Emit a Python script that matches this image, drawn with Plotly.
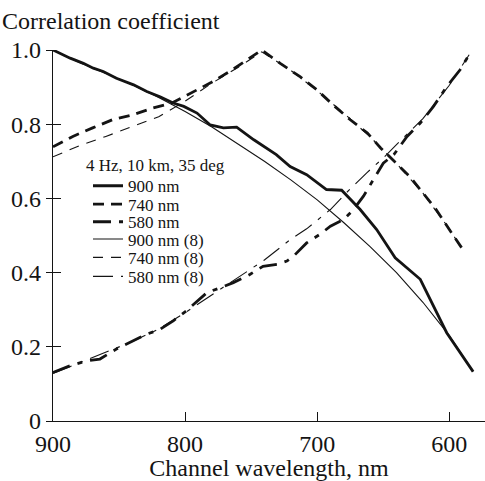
import plotly.graph_objects as go

# ---- data (wavelength in nm, correlation coefficient) ----
wl_900 = [900, 887, 877, 869.5, 862, 852, 839, 829, 819, 809, 801, 791, 781, 771, 761, 748, 731, 720.5, 708, 693, 681.5, 667.5, 655, 641, 622, 602, 582]
v_900 = [1.0, 0.978, 0.964, 0.951, 0.942, 0.924, 0.906, 0.888, 0.874, 0.857, 0.848, 0.830, 0.798, 0.790, 0.792, 0.758, 0.718, 0.686, 0.664, 0.624, 0.622, 0.570, 0.516, 0.440, 0.382, 0.238, 0.133]

wl_740 = [900, 885, 870, 855, 840, 825, 810, 795, 780, 765, 753, 742, 728, 713, 700, 688, 675, 662, 652, 642, 630, 620, 610, 600, 589]
v_740 = [0.739, 0.767, 0.790, 0.812, 0.825, 0.843, 0.857, 0.886, 0.913, 0.945, 0.973, 1.0, 0.964, 0.928, 0.892, 0.852, 0.812, 0.776, 0.736, 0.700, 0.659, 0.615, 0.570, 0.516, 0.458]

wl_580 = [900, 887, 874.5, 864.5, 852, 842, 829, 819, 809, 799, 791, 783.5, 773.5, 763.5, 751, 741, 730.5, 723, 718, 708, 698, 690, 680, 672.5, 665, 657.5, 650, 642, 632, 622, 612, 602, 592, 585]
v_580 = [0.131, 0.149, 0.162, 0.167, 0.194, 0.212, 0.234, 0.247, 0.270, 0.297, 0.323, 0.346, 0.359, 0.373, 0.395, 0.417, 0.422, 0.431, 0.444, 0.480, 0.503, 0.525, 0.543, 0.570, 0.606, 0.651, 0.695, 0.718, 0.767, 0.803, 0.848, 0.901, 0.946, 0.987]

wl_900m = [900, 880, 860, 840, 820, 800, 780, 760, 740, 720, 700, 680, 660, 640, 620, 600, 582]
v_900m = [1.0, 0.966, 0.937, 0.906, 0.872, 0.834, 0.793, 0.747, 0.700, 0.650, 0.596, 0.535, 0.470, 0.400, 0.320, 0.230, 0.133]

wl_740m = [900, 880, 860, 840, 820, 800, 780, 760, 742, 720, 700, 680, 660, 640, 620, 600, 589]
v_740m = [0.712, 0.742, 0.767, 0.794, 0.820, 0.862, 0.910, 0.953, 0.995, 0.945, 0.890, 0.830, 0.766, 0.694, 0.614, 0.518, 0.455]

wl_580m = [900, 880, 860, 840, 820, 800, 781, 760, 740, 720, 708, 690, 678, 662.5, 650, 640, 620, 600, 585]
v_580m = [0.128, 0.157, 0.185, 0.214, 0.248, 0.292, 0.337, 0.386, 0.434, 0.490, 0.518, 0.570, 0.615, 0.669, 0.709, 0.745, 0.815, 0.905, 0.987]

names = ["900 nm", "740 nm", "580 nm", "900 nm (8)", "740 nm (8)", "580 nm (8)"]
legend_title = "4 Hz, 10 km, 35 deg"
x_ticks = [900, 800, 700, 600]
y_ticks = [0, 0.2, 0.4, 0.6, 0.8, 1.0]
y_ticktext = ["0", "0.2", "0.4", "0.6", "0.8", "1.0"]

INK = "#141414"
FONT = "Liberation Serif, Times New Roman, serif"
FS = 24
LFS = 17

# plot area geometry (px)
L, T, W, H = 53, 50, 432, 371


def py(px_y):
    return (T + H - px_y) / H


def pxx(px_x):
    return (px_x - L) / W


series = [
    (wl_900, v_900, 2.8, "solid"),
    (wl_740, v_740, 2.8, "11px,7px"),
    (wl_580, v_580, 2.8, "18px,8px,5px,8px"),
    (wl_900m, v_900m, 1.1, "solid"),
    (wl_740m, v_740m, 1.1, "10px,8px"),
    (wl_580m, v_580m, 1.1, "20px,8px,4px,8px"),
]

legend_rows = [186.7, 205, 222.7, 240, 258.3, 277.3]
legend_ids = ["legend", "legend2", "legend3", "legend4", "legend5", "legend6"]

fig = go.Figure()
for (xs, ys, w, d), n, lid in zip(series, names, legend_ids):
    fig.add_trace(go.Scatter(x=xs, y=ys, mode="lines", name=n, legend=lid,
                             line=dict(color=INK, width=w, dash=d),
                             hoverinfo="skip"))

# helper trace so the inner tick marks of the crossing y ticks are drawn
fig.add_trace(go.Scatter(x=[900], y=[0], yaxis="y2", mode="markers",
                         marker=dict(opacity=0), showlegend=False, hoverinfo="skip"))

legends = {}
for lid, row in zip(legend_ids, legend_rows):
    legends[lid] = dict(
        x=pxx(88), y=py(row - 18.5), xanchor="left", yanchor="top",
        bgcolor="rgba(0,0,0,0)", borderwidth=0,
        font=dict(family=FONT, size=LFS, color=INK),
    )

fig.update_layout(
    width=485, height=481,
    margin=dict(l=L, r=0, t=T, b=481 - T - H),
    paper_bgcolor="white", plot_bgcolor="white",
    font=dict(family=FONT, color=INK, size=FS),
    showlegend=True,
    xaxis=dict(
        range=[900, 573], tickvals=x_ticks, ticks="inside", ticklen=9,
        tickwidth=1.2, tickcolor=INK, showline=True, linecolor=INK, linewidth=1.2,
        showgrid=False, zeroline=False, ticklabelstandoff=1,
        tickfont=dict(family=FONT, size=FS, color=INK),
        title=dict(text="Channel wavelength, nm", font=dict(family=FONT, size=FS, color=INK), standoff=3),
    ),
    yaxis=dict(
        range=[0, 1.0], tickvals=y_ticks, ticktext=y_ticktext, ticks="outside", ticklen=6,
        tickwidth=1.2, tickcolor=INK, showline=True, linecolor=INK, linewidth=1.2,
        showgrid=False, zeroline=False,
        tickfont=dict(family=FONT, size=FS, color=INK),
    ),
    yaxis2=dict(
        overlaying="y", matches="y", side="left", tickvals=y_ticks, ticks="inside",
        ticklen=8, tickwidth=1.2, tickcolor=INK, showticklabels=False,
        showline=False, showgrid=False, zeroline=False,
    ),
    annotations=[
        dict(text="Correlation coefficient", xref="paper", yref="paper",
             x=pxx(0), y=py(21), xanchor="left", yanchor="middle",
             showarrow=False, font=dict(family=FONT, size=FS, color=INK)),
        dict(text=legend_title, xref="paper", yref="paper",
             x=pxx(84), y=py(165), xanchor="left", yanchor="middle",
             showarrow=False, font=dict(family=FONT, size=LFS, color=INK)),
    ],
    **legends,
)

fig.write_html("out.html")
